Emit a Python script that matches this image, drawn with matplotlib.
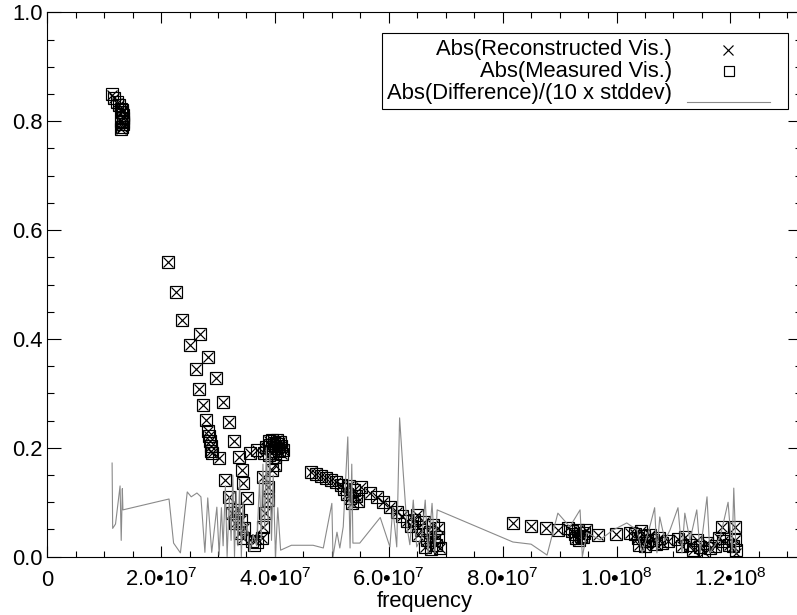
import numpy as np
import matplotlib
matplotlib.use("Agg")
import matplotlib.pyplot as plt
from matplotlib.patches import Rectangle
from matplotlib.lines import Line2D
from matplotlib.ticker import FixedLocator, MultipleLocator

# ---------------- data ----------------
# visibility points: frequency (MHz), measured |vis|, reconstructed |vis|
vis_freq_mhz = [
    11.4, 11.8, 12.2, 12.6, 12.9, 13.1, 13.3, 13.3, 13.4, 13.3, 13.2, 12.9, 13.0, 13.2,
    21.3, 22.7, 23.6, 25.1, 26.1, 26.8, 26.7, 27.4, 27.9, 28.3, 28.3, 28.4, 28.6, 28.7,
    28.8, 28.9, 29.7, 30.1, 30.9, 31.2, 32.0, 32.0, 32.5, 32.8, 33.0, 33.5, 33.7, 33.9,
    34.1, 34.2, 34.4, 34.4, 34.6, 35.1, 35.6, 36.0, 36.3, 36.9, 36.9, 37.7, 37.9, 37.9,
    38.3, 38.4, 38.7, 38.8, 39.2, 39.5, 39.6, 39.9, 40.0, 40.0, 40.2, 40.5, 40.7, 41.1,
    41.4, 38.0, 38.9, 39.4, 40.9, 41.3, 39.0, 40.3,
    46.3, 47.2, 48.1, 49.0, 49.9, 50.7, 51.6, 52.1, 52.7, 53.2, 53.5, 53.0, 53.9, 54.2,
    54.6, 55.1, 56.7, 57.9, 59.0, 60.2, 61.4, 62.3, 63.2, 63.9, 64.4, 64.9, 65.7, 66.2,
    66.7, 67.2, 67.8, 68.3, 68.6, 69.0, 65.1, 66.4, 67.4, 67.9, 68.6,
    81.8, 85.0, 87.6, 89.7, 91.5, 92.2, 92.7, 92.9, 93.2, 93.5, 93.8, 94.3, 94.6, 94.1,
    96.8, 99.9, 102.4, 103.2, 103.8, 104.3, 104.8, 105.4, 105.9, 106.4, 106.9, 107.5,
    108.0, 104.0, 105.0, 109.1, 110.8, 111.5, 112.0, 112.9, 113.4, 114.1, 114.7, 115.3,
    115.9, 116.4, 117.3, 118.0, 118.7, 118.6, 119.8, 120.5, 120.8, 120.9, 121.0,
]
vis_meas = [
    0.850, 0.842, 0.835, 0.829, 0.823, 0.817, 0.811, 0.805, 0.799, 0.794, 0.789, 0.785, 0.800, 0.820,
    0.542, 0.487, 0.435, 0.389, 0.345, 0.409, 0.308, 0.279, 0.251, 0.367, 0.230, 0.222, 0.212, 0.203,
    0.195, 0.190, 0.328, 0.181, 0.284, 0.141, 0.248, 0.110, 0.080, 0.213, 0.062, 0.086, 0.184, 0.043,
    0.068, 0.159, 0.135, 0.034, 0.053, 0.108, 0.190, 0.029, 0.021, 0.196, 0.027, 0.034, 0.055, 0.146,
    0.080, 0.201, 0.104, 0.128, 0.205, 0.159, 0.195, 0.209, 0.168, 0.183, 0.199, 0.207, 0.194, 0.203,
    0.196, 0.190, 0.212, 0.214, 0.210, 0.188, 0.186, 0.214,
    0.156, 0.152, 0.149, 0.145, 0.141, 0.138, 0.132, 0.125, 0.115, 0.108, 0.099, 0.130, 0.123, 0.111,
    0.102, 0.128, 0.117, 0.110, 0.100, 0.091, 0.082, 0.075, 0.066, 0.057, 0.067, 0.077, 0.049, 0.064,
    0.031, 0.046, 0.058, 0.021, 0.036, 0.016, 0.040, 0.018, 0.014, 0.031, 0.053,
    0.0625, 0.057, 0.053, 0.049, 0.053, 0.047, 0.042, 0.034, 0.049, 0.031, 0.038, 0.044, 0.049, 0.036,
    0.039, 0.042, 0.044, 0.042, 0.034, 0.047, 0.038, 0.029, 0.040, 0.031, 0.023, 0.034,
    0.025, 0.022, 0.020, 0.029, 0.032, 0.020, 0.037, 0.021, 0.012, 0.031, 0.018, 0.009,
    0.025, 0.016, 0.020, 0.034, 0.029, 0.054, 0.022, 0.020, 0.031, 0.054, 0.012,
]
vis_recon = [
    0.849, 0.842, 0.834, 0.829, 0.822, 0.817, 0.810, 0.805, 0.798, 0.794, 0.789, 0.786, 0.800, 0.819,
    0.542, 0.487, 0.435, 0.389, 0.345, 0.409, 0.308, 0.279, 0.251, 0.367, 0.230, 0.222, 0.212, 0.203,
    0.195, 0.190, 0.328, 0.181, 0.284, 0.141, 0.248, 0.110, 0.080, 0.213, 0.062, 0.086, 0.184, 0.043,
    0.068, 0.159, 0.135, 0.034, 0.053, 0.108, 0.190, 0.035, 0.030, 0.196, 0.033, 0.034, 0.055, 0.146,
    0.080, 0.201, 0.104, 0.128, 0.205, 0.159, 0.195, 0.209, 0.168, 0.183, 0.199, 0.207, 0.194, 0.203,
    0.196, 0.190, 0.212, 0.214, 0.210, 0.188, 0.186, 0.214,
    0.156, 0.152, 0.149, 0.145, 0.141, 0.138, 0.132, 0.125, 0.115, 0.108, 0.099, 0.130, 0.123, 0.111,
    0.102, 0.128, 0.117, 0.110, 0.100, 0.091, 0.082, 0.075, 0.066, 0.057, 0.067, 0.077, 0.049, 0.064,
    0.031, 0.046, 0.058, 0.021, 0.036, 0.016, 0.040, 0.018, 0.014, 0.031, 0.053,
    0.0625, 0.057, 0.053, 0.049, 0.053, 0.047, 0.042, 0.034, 0.049, 0.031, 0.038, 0.044, 0.049, 0.036,
    0.039, 0.042, 0.044, 0.042, 0.034, 0.047, 0.038, 0.029, 0.040, 0.031, 0.023, 0.034,
    0.025, 0.022, 0.020, 0.029, 0.032, 0.020, 0.037, 0.021, 0.012, 0.031, 0.018, 0.009,
    0.025, 0.016, 0.020, 0.034, 0.029, 0.054, 0.022, 0.020, 0.031, 0.054, 0.007,
]

# |difference| / (10 x stddev), in frequency order
diff_freq_mhz = [
    11.4, 11.5, 12.0, 12.8, 13.0, 13.2, 13.3,
    21.4, 22.2, 23.4, 24.6, 25.3, 26.3, 27.0, 27.7, 28.2, 28.9, 29.8, 30.2,
    30.6, 30.9, 31.3, 31.6, 32.0, 32.3, 32.6, 32.9, 33.2, 33.5, 33.8, 34.1, 34.4, 34.7,
    35.1, 35.6, 36.2, 36.8, 37.3, 37.6, 37.9, 38.2, 38.5, 38.8, 39.1, 39.4, 39.7, 40.1,
    40.5, 41.0,
    42.9, 46.7, 48.5, 50.0, 50.2, 50.9, 51.4, 52.0, 52.8, 53.2, 53.5, 53.7, 54.9, 58.5,
    60.2, 60.7, 61.4, 61.9, 62.5, 63.2, 63.7, 64.3, 64.9, 65.8, 66.4, 66.9, 67.6, 68.1,
    68.5,
    81.8, 85.0, 87.8, 89.7, 91.8, 93.6, 94.0, 94.8, 97.1, 99.4, 101.8, 103.6, 104.5,
    105.7, 106.7, 107.1, 107.6, 108.5, 109.4, 110.8, 111.5, 112.0, 112.9, 114.1, 114.7,
    115.9, 116.4, 118.2, 119.6, 120.3, 120.6, 121.0,
]
diff_val = [
    0.172, 0.052, 0.060, 0.130, 0.030, 0.125, 0.086,
    0.106, 0.025, 0.007, 0.119, 0.110, 0.117, 0.110, 0.008, 0.108, 0.008, 0.091, 0.003,
    0.090, 0.020, 0.130, 0.000, 0.110, 0.030, 0.150, 0.000, 0.120, 0.020, 0.140, 0.000, 0.100, 0.030,
    0.060, 0.010, 0.040, 0.020, 0.140, 0.030, 0.170, 0.050, 0.200, 0.060, 0.190, 0.030, 0.150, 0.000,
    0.090, 0.012,
    0.021, 0.021, 0.016, 0.098, 0.000, 0.045, 0.016, 0.055, 0.220, 0.016, 0.170, 0.025, 0.025, 0.072,
    0.018, 0.090, 0.018, 0.255, 0.160, 0.055, 0.022, 0.104, 0.018, 0.036, 0.104, 0.007, 0.098, 0.007,
    0.086,
    0.027, 0.023, 0.003, 0.080, 0.055, 0.086, 0.000, 0.044, 0.031, 0.049, 0.062, 0.049, 0.007,
    0.049, 0.090, 0.007, 0.073, 0.030, 0.049, 0.090, 0.007, 0.080, 0.030, 0.086, 0.007,
    0.110, 0.007, 0.036, 0.100, 0.007, 0.126, 0.007,
]

xtick_vals = [0, 2.0e7, 4.0e7, 6.0e7, 8.0e7, 1.0e8, 1.2e8]
xtick_labels = ['0', '2.0\u202210$^{7}$', '4.0\u202210$^{7}$', '6.0\u202210$^{7}$',
                '8.0\u202210$^{7}$', '1.0\u202210$^{8}$', '1.2\u202210$^{8}$']
ytick_vals = [0.0, 0.2, 0.4, 0.6, 0.8, 1.0]
ytick_labels = ['0.0', '0.2', '0.4', '0.6', '0.8', '1.0']
legend_labels = ['Abs(Reconstructed Vis.)', 'Abs(Measured Vis.)', 'Abs(Difference)/(10 x stddev)']

# ---------------- style ----------------
plt.rcParams['font.family'] = ['Liberation Sans', 'DejaVu Sans']
plt.rcParams['mathtext.fontset'] = 'custom'
plt.rcParams['mathtext.rm'] = 'Liberation Sans'
plt.rcParams['mathtext.it'] = 'Liberation Sans:italic'
plt.rcParams['mathtext.bf'] = 'Liberation Sans:bold'
plt.rcParams['mathtext.default'] = 'regular'
FS = 15.8
W, H = 797, 615

fig = plt.figure(figsize=(W / 100, H / 100), dpi=100)
x0, x1, ytop, ybot = 47.2, 802.0, 12.3, 556.7
ax = fig.add_axes([x0 / W, (H - ybot) / H, (x1 - x0) / W, (ybot - ytop) / H])

fx = np.asarray(vis_freq_mhz) * 1e6
ax.plot(fx, vis_recon, linestyle='none', marker='x', markersize=7.8,
        markeredgewidth=0.85, color='black', zorder=2)
ax.plot(fx, vis_meas, linestyle='none', marker='s', markersize=8.6,
        markeredgewidth=0.85, markerfacecolor='none', markeredgecolor='black', zorder=3)
ax.plot(np.asarray(diff_freq_mhz) * 1e6, diff_val, color='#8a8a8a', linewidth=0.8, zorder=4)

ax.set_xlim(0, (x1 - x0) / 5.693 * 1e6)
ax.set_ylim(0, 1.0)
ax.xaxis.set_major_locator(FixedLocator(xtick_vals))
ax.xaxis.set_minor_locator(MultipleLocator(5e6))
ax.yaxis.set_major_locator(FixedLocator(ytick_vals))
ax.yaxis.set_minor_locator(MultipleLocator(0.05))
ax.set_yticklabels(ytick_labels)
ax.set_xticklabels(xtick_labels)

for s in ax.spines.values():
    s.set_linewidth(0.8)
ax.tick_params(which='both', direction='in', top=True, right=True, width=0.8,
               labelsize=FS, colors='black')
ax.tick_params(axis='x', which='major', length=7.9, pad=21)
ax.tick_params(axis='x', which='minor', length=4.0)
ax.tick_params(axis='y', which='major', length=10.1, pad=3)
ax.tick_params(axis='y', which='minor', length=5.0)
for lab in ax.get_xticklabels():
    lab.set_verticalalignment('baseline')

def P(x, y):
    return (x / W, 1 - y / H)

fig.text(*P(424.5, 607), 'frequency', ha='center', va='baseline', fontsize=FS)

# legend (drawn by hand to mimic IDL layout)
bx0, by0, bx1, by1 = 382, 33, 788, 109
fig.add_artist(Rectangle(P(bx0, by1), (bx1 - bx0) / W, (by1 - by0) / H,
                         transform=fig.transFigure, facecolor='white',
                         edgecolor='black', linewidth=0.8, zorder=5))
for lab, yb in zip(legend_labels, [55.5, 77.0, 98.5]):
    fig.text(*P(672, yb), lab, ha='right', va='baseline', fontsize=FS, zorder=6)
fig.add_artist(Line2D([728.3 / W], [1 - 49.5 / H], marker='x', markersize=7.6,
                      markeredgewidth=0.85, color='black', linestyle='none',
                      transform=fig.transFigure, zorder=6))
fig.add_artist(Line2D([728.7 / W], [1 - 70.8 / H], marker='s', markersize=7.8,
                      markeredgewidth=0.85, markerfacecolor='none', markeredgecolor='black',
                      linestyle='none', transform=fig.transFigure, zorder=6))
fig.add_artist(Line2D([687 / W, 770 / W], [1 - 101.5 / H, 1 - 101.5 / H],
                      color='#8a8a8a', linewidth=0.8, transform=fig.transFigure, zorder=6))

fig.savefig('out.png', dpi=100)
